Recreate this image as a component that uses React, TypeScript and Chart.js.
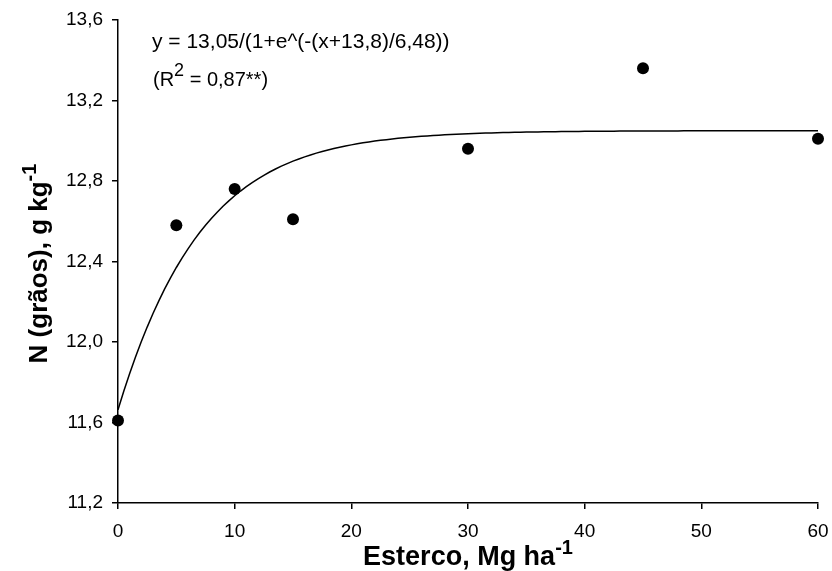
import { useEffect, useRef } from "react";
import { Chart, registerables } from "chart.js";

Chart.register(...registerables);

// Observed grain nitrogen vs. manure rate
const esterco = [0, 5, 10, 15, 30, 45, 60];
const nGraos = [11.61, 12.58, 12.76, 12.61, 12.96, 13.36, 13.01];

// Axis ticks
const xTicks = [0, 10, 20, 30, 40, 50, 60];
const yTicks = [11.2, 11.6, 12.0, 12.4, 12.8, 13.2, 13.6];

// Fitted sigmoid: y = a / (1 + e^(-(x + x0) / b))
const fitA = 13.05;
const fitX0 = 13.8;
const fitB = 6.48;
const fitStep = 0.5;

const FONT = "'Liberation Sans', Arial, sans-serif";

type Seg = { text: string; size: number; bold?: boolean; rise?: number };

function segFont(s: Seg) {
  return `${s.bold ? "bold " : ""}${s.size}px ${FONT}`;
}

function richWidth(ctx: CanvasRenderingContext2D, segs: Seg[]) {
  let w = 0;
  for (const s of segs) {
    ctx.font = segFont(s);
    w += ctx.measureText(s.text).width;
  }
  return w;
}

function drawRich(ctx: CanvasRenderingContext2D, segs: Seg[], x: number, y: number) {
  let cx = x;
  ctx.textBaseline = "alphabetic";
  ctx.textAlign = "left";
  for (const s of segs) {
    ctx.font = segFont(s);
    ctx.fillText(s.text, cx, y - (s.rise || 0));
    cx += ctx.measureText(s.text).width;
  }
}

const xTitle: Seg[] = [
  { text: "Esterco, Mg ha", size: 27, bold: true },
  { text: "-1", size: 20, bold: true, rise: 11 },
];
const yTitle: Seg[] = [
  { text: "N (grãos), g kg", size: 26, bold: true },
  { text: "-1", size: 20, bold: true, rise: 11 },
];
const eqLine1: Seg[] = [{ text: "y = 13,05/(1+e^(-(x+13,8)/6,48))", size: 21 }];
const eqLine2: Seg[] = [
  { text: "(R", size: 20 },
  { text: "2", size: 18, rise: 10 },
  { text: " = 0,87**)", size: 20 },
];

const textPlugin = {
  id: "richText",
  afterDraw(chart: Chart) {
    const ctx = chart.ctx;
    const area = chart.chartArea;
    ctx.save();
    ctx.fillStyle = "#000";

    // x axis title
    const wx = richWidth(ctx, xTitle);
    drawRich(ctx, xTitle, (area.left + area.right) / 2 - wx / 2, area.bottom + 62);

    // y axis title (rotated)
    const wy = richWidth(ctx, yTitle);
    ctx.save();
    ctx.translate(area.left - 71, (area.top + area.bottom) / 2 + 2);
    ctx.rotate(-Math.PI / 2);
    drawRich(ctx, yTitle, -wy / 2, 0);
    ctx.restore();

    // regression equation
    drawRich(ctx, eqLine1, area.left + 34, area.top + 28);
    drawRich(ctx, eqLine2, area.left + 35, area.top + 66);

    ctx.restore();
  },
};

export default function App() {
  const ref = useRef<HTMLCanvasElement | null>(null);

  useEffect(() => {
    const canvas = ref.current;
    if (!canvas) return;

    const curve: { x: number; y: number }[] = [];
    for (let x = xTicks[0]; x <= xTicks[xTicks.length - 1] + 1e-9; x += fitStep) {
      curve.push({ x, y: fitA / (1 + Math.exp(-(x + fitX0) / fitB)) });
    }
    const points = esterco.map((x, i) => ({ x, y: nGraos[i] }));

    const tickFont = { family: FONT, size: 19 };

    const chart = new Chart(canvas, {
      type: "scatter",
      data: {
        datasets: [
          {
            type: "line",
            data: curve,
            borderColor: "#000",
            borderWidth: 1.5,
            pointRadius: 0,
            tension: 0,
            fill: false,
            clip: false as any,
          },
          {
            type: "scatter",
            data: points,
            backgroundColor: "#000",
            borderColor: "#000",
            pointRadius: 6,
            pointBorderWidth: 0,
            clip: false as any,
          },
        ],
      },
      options: {
        animation: false,
        responsive: false,
        events: [],
        layout: { padding: { top: 20, right: 14, left: 0, bottom: 0 } },
        plugins: { legend: { display: false }, tooltip: { enabled: false } },
        scales: {
          x: {
            type: "linear",
            min: xTicks[0],
            max: xTicks[xTicks.length - 1],
            afterBuildTicks: (s: any) => {
              s.ticks = xTicks.map((v) => ({ value: v }));
            },
            afterFit: (s: any) => {
              s.height = 68;
              s.paddingLeft = 0;
              s.paddingRight = 0;
            },
            ticks: {
              color: "#000",
              font: tickFont,
              padding: 11,
              maxRotation: 0,
              callback: (v: any) => String(v),
            },
            grid: {
              display: true,
              drawOnChartArea: false,
              drawTicks: true,
              tickLength: 6,
              color: "#000",
              lineWidth: 1.5,
            },
            border: { display: true, color: "#000", width: 1.5 },
          },
          y: {
            type: "linear",
            min: yTicks[0],
            max: yTicks[yTicks.length - 1],
            afterBuildTicks: (s: any) => {
              s.ticks = yTicks.map((v) => ({ value: v }));
            },
            afterFit: (s: any) => {
              s.width = 118;
              s.paddingTop = 0;
              s.paddingBottom = 0;
            },
            ticks: {
              color: "#000",
              font: tickFont,
              padding: 9,
              callback: (v: any) => Number(v).toFixed(1).replace(".", ","),
            },
            grid: {
              display: true,
              drawOnChartArea: false,
              drawTicks: true,
              tickLength: 6,
              color: "#000",
              lineWidth: 1.5,
            },
            border: { display: true, color: "#000", width: 1.5 },
          },
        },
      },
      plugins: [textPlugin],
    });

    return () => chart.destroy();
  }, []);

  return (
    <div style={{ position: "absolute", left: 0, top: 0, width: 832, height: 571, background: "#fff" }}>
      <canvas ref={ref} width={832} height={571} style={{ display: "block" }} />
    </div>
  );
}
